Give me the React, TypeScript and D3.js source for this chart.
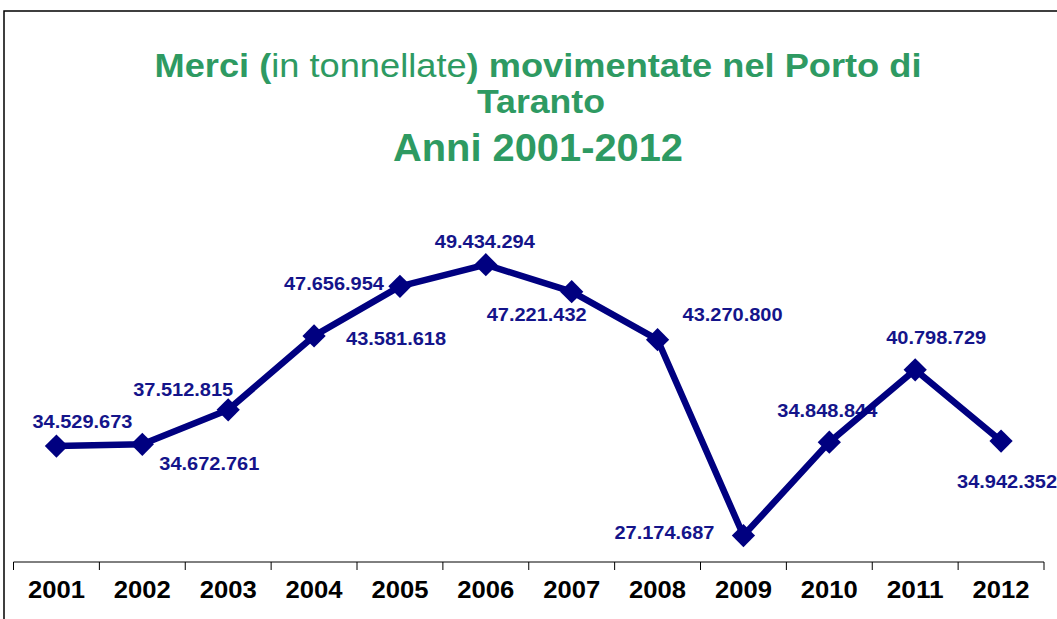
import React from "react";
import * as d3 from "d3";

const years = ["2001","2002","2003","2004","2005","2006","2007","2008","2009","2010","2011","2012"];
const tonnes = [34529673,34672761,37512815,43581618,47656954,49434294,47221432,43270800,27174687,34848844,40798729,34942352];
const labelText = ["34.529.673","34.672.761","37.512.815","43.581.618","47.656.954","49.434.294","47.221.432","43.270.800","27.174.687","34.848.844","40.798.729","34.942.352"];
// label placement relative to each point (dx, dy)
const labelDx = [26, 67, -45, 82, -66, -1, -35, 75, -79, -2, 21, 6];
const labelDy = [-25, 19, -20, 3, -3, -23, 23, -25, -3, -32, -32, 40];

const W = 1057, H = 619;
const NAVY = "#000080";
const LABEL = "#14148a";
const GREEN = "#2e9a62";
const FONT = "'Liberation Sans', Arial, sans-serif";

export default function App() {
  const x = d3.scaleBand<string>().domain(years).range([13.5, 1044]).padding(0);
  const y = d3.scaleLinear().domain([25000000, 55000000]).range([562, 197]);
  const px = (i: number) => (x(years[i]) as number) + x.bandwidth() / 2;
  const line = d3.line<number>().x((_, i) => px(i)).y((d) => y(d));
  const diamond = d3.symbol().type(d3.symbolSquare).size(270)();
  const bounds = years.map((yr) => x(yr) as number).concat([1044]);

  return (
    <svg width={W} height={H} style={{ position: "absolute", left: 0, top: 0, background: "#fff" }} fontFamily={FONT}>
      <rect x={0} y={0} width={W} height={H} fill="#fff" />
      <rect x={4} y={11} width={1080} height={700} fill="none" stroke="#000" strokeWidth={1.5} />
      <g fill={GREEN} textAnchor="middle">
        <text x={538} y={77} fontSize={33} fontWeight="bold" textLength={767} lengthAdjust="spacingAndGlyphs">
          <tspan>Merci (</tspan><tspan fontWeight="normal">in tonnellate</tspan><tspan>) movimentate nel Porto di</tspan>
        </text>
        <text x={541} y={113} fontSize={33} fontWeight="bold" textLength={128} lengthAdjust="spacingAndGlyphs">Taranto</text>
        <text x={538} y={161} fontSize={39} fontWeight="bold" textLength={290} lengthAdjust="spacingAndGlyphs">Anni 2001-2012</text>
      </g>
      <g>
        <line x1={13.5} x2={1044} y1={562} y2={562} stroke="#000" strokeWidth={1} />
        {bounds.map((b, i) => (
          <line key={i} x1={b} x2={b} y1={562} y2={570} stroke="#000" strokeWidth={1} />
        ))}
        {years.map((yr, i) => (
          <text key={yr} x={px(i)} y={598} textAnchor="middle" fontSize={24} fontWeight="bold" fill="#000" textLength={57} lengthAdjust="spacingAndGlyphs">{yr}</text>
        ))}
      </g>
      <g>
        {tonnes.map((v, i) => (
          <text key={i} x={px(i) + labelDx[i]} y={y(v) + labelDy[i]} dy="0.36em" textAnchor="middle" fontSize={18} fontWeight="bold" fill={LABEL} textLength={100} lengthAdjust="spacingAndGlyphs">{labelText[i]}</text>
        ))}
      </g>
      <path d={line(tonnes) || ""} fill="none" stroke={NAVY} strokeWidth={6.5} strokeLinejoin="round" />
      <g fill={NAVY}>
        {tonnes.map((v, i) => (
          <path key={i} d={diamond || ""} transform={`translate(${px(i)},${y(v)}) rotate(45)`} />
        ))}
      </g>
    </svg>
  );
}
